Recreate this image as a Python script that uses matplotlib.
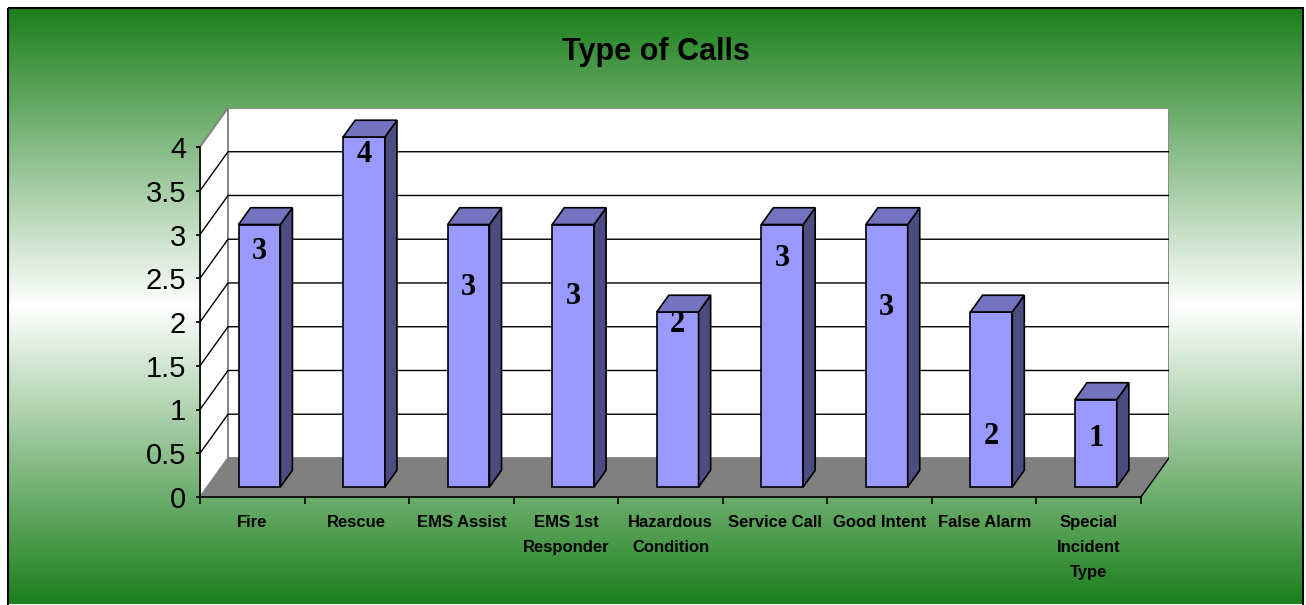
import numpy as np
import matplotlib
matplotlib.use('Agg')
import matplotlib.pyplot as plt
from matplotlib.colors import LinearSegmentedColormap

plt.rcParams['font.family'] = ['Liberation Sans', 'DejaVu Sans']

categories = ['Fire', 'Rescue', 'EMS Assist', 'EMS 1st\nResponder', 'Hazardous\nCondition',
              'Service Call', 'Good Intent', 'False Alarm', 'Special\nIncident\nType']
calls = [3, 4, 3, 3, 2, 3, 3, 2, 1]
# heights where the value labels sit on each bar (axis units)
label_y = [2.81, 3.91, 2.39, 2.29, 1.97, 2.73, 2.17, 0.69, 0.67]
yticks = [0, 0.5, 1, 1.5, 2, 2.5, 3, 3.5, 4]
ytick_labels = ['0', '0.5', '1', '1.5', '2', '2.5', '3', '3.5', '4']

W, H = 1306, 605
fig = plt.figure(figsize=(W / 100, H / 100), dpi=100)

# green -> white -> green background with a thin frame
bg = fig.add_axes([0, 0, 1, 1], zorder=-5)
bg.set_xlim(0, W)
bg.set_ylim(H, 0)
bg.axis('off')
green = LinearSegmentedColormap.from_list('g', ['#1c801c', '#ffffff', '#1c801c'])
grad = np.linspace(0, 1, 400).reshape(-1, 1)
bg.imshow(grad, cmap=green, extent=[8, 1303, 604, 8], aspect='auto', interpolation='bilinear')
bg.add_patch(plt.Rectangle((8, 8), 1295, 600, fill=False, ec='black', lw=1.5))

# plot area: front plane of the 3d box
n = len(categories)
D_U, D_V = 0.268, 0.446      # depth of the box in axis units
x0, x1, y0, y4 = 200, 1141, 497, 147
pu = (x1 - x0) / n
pv = (y0 - y4) / 4
xmax, ymax = n + D_U, 4 + D_V
ax = fig.add_axes([x0 / W, (H - y0) / H, xmax * pu / W, ymax * pv / H])
ax.set_xlim(0, xmax)
ax.set_ylim(0, ymax)
ax.patch.set_visible(False)

# walls + floor
ax.fill([0, D_U, D_U, 0], [0, D_V, 4 + D_V, 4], fc='white', ec='#808080', lw=1.3, zorder=1)
ax.fill([D_U, n + D_U, n + D_U, D_U], [D_V, D_V, 4 + D_V, 4 + D_V],
        fc='white', ec='#808080', lw=1.3, zorder=1)
for g in yticks[1:-1]:
    ax.plot([0, D_U, n + D_U], [g, g + D_V, g + D_V], color='black', lw=1, zorder=2)
ax.fill([0, n, n + D_U, D_U], [0, 0, D_V, D_V], fc='#808080', ec='none', zorder=3)
ax.plot([n, n + D_U], [0, D_V], color='black', lw=1, zorder=3)

# bars
bw = 0.40
front, deep = 0.256, 0.43
su, sv = front * D_U, front * D_V
bu, bv = deep * D_U, deep * D_V
for i, val in enumerate(calls):
    l = i + 0.5 - bw / 2 + su
    r = l + bw
    b, t = sv, sv + val
    ax.fill([l, r, r, l], [b, b, t, t], fc='#9999ff', ec='black', lw=1.2, zorder=4)
    ax.fill([r, r + bu, r + bu, r], [b, b + bv, t + bv, t], fc='#4c4c80', ec='black', lw=1.2, zorder=4)
    ax.fill([l, r, r + bu, l + bu], [t, t, t + bv, t + bv], fc='#7373bf', ec='black', lw=1.2, zorder=4)
    ax.text(i + 0.5 + su, label_y[i], str(val), ha='center', va='center', fontsize=22,
            fontweight='bold', family=['Liberation Serif', 'DejaVu Serif'], zorder=5)

for s in ['top', 'right']:
    ax.spines[s].set_visible(False)
ax.spines['left'].set_bounds(0, 4)
ax.spines['bottom'].set_bounds(0, n)
for s in ['left', 'bottom']:
    ax.spines[s].set_zorder(6)
    ax.spines[s].set_linewidth(1.2)

ax.set_yticks(yticks, ytick_labels, fontsize=21)
ax.tick_params(axis='y', length=3, width=1.2, pad=7)
ax.set_xticks(range(n + 1), [''] * (n + 1))
ax.set_xticks([i + 0.5 for i in range(n)], categories, minor=True,
              fontsize=12, fontweight='bold')
for lbl in ax.get_xticklabels(minor=True):
    lbl.set_linespacing(1.85)
ax.tick_params(axis='x', which='major', length=5, width=1.2)
ax.tick_params(axis='x', which='minor', length=0, pad=13)

fig.text(656 / W, 1 - 52 / H, 'Type of Calls', ha='center', va='center',
         fontsize=22, fontweight='bold')

fig.savefig('out.png', dpi=100)
